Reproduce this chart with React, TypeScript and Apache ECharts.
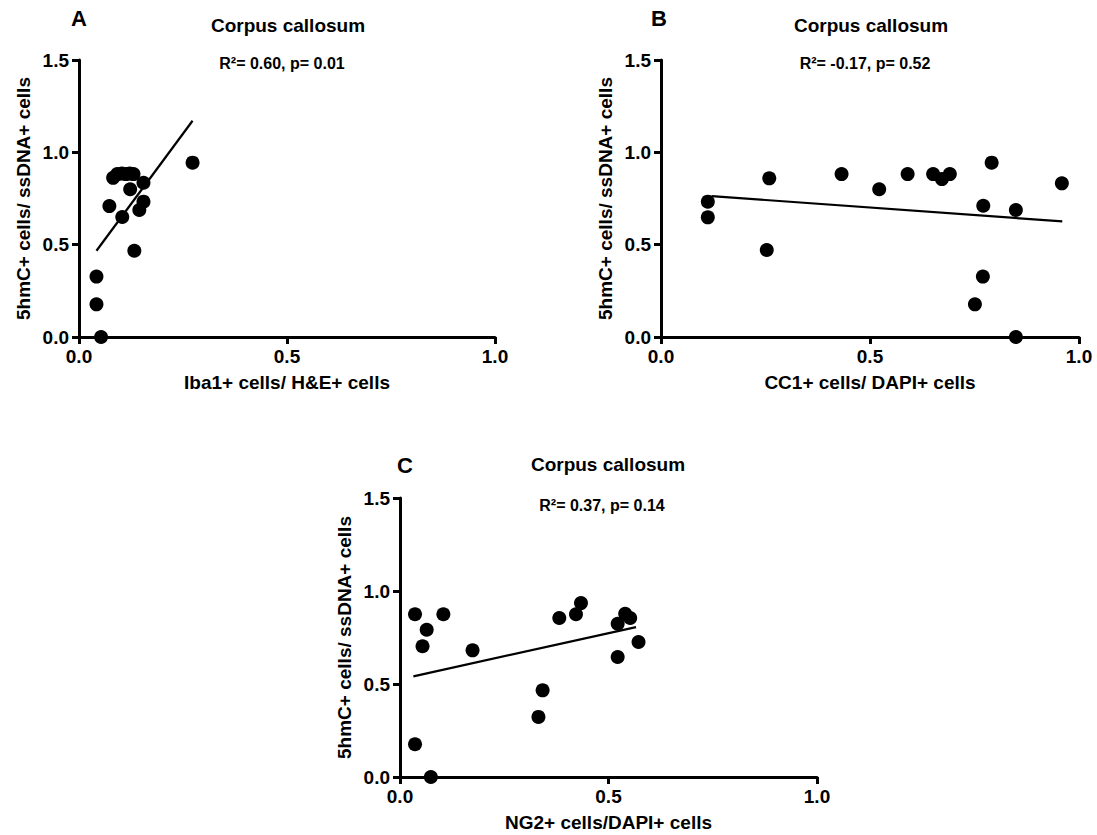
import React, { useEffect, useRef } from "react";
import * as echarts from "echarts";

// Panel A: Iba1+ / H&E+ vs 5hmC+ / ssDNA+
const aX = [0.042, 0.042, 0.053, 0.073, 0.082, 0.092, 0.103, 0.113, 0.122, 0.131, 0.123, 0.104, 0.133, 0.145, 0.155, 0.155, 0.273];
const aY = [0.327, 0.177, 0.0, 0.709, 0.862, 0.882, 0.885, 0.882, 0.885, 0.882, 0.80, 0.65, 0.467, 0.688, 0.733, 0.835, 0.944];
const aFitX = [0.042, 0.273];
const aFitY = [0.467, 1.171];

// Panel B: CC1+ / DAPI+ vs 5hmC+ / ssDNA+
const bX = [0.112, 0.112, 0.259, 0.253, 0.432, 0.522, 0.590, 0.651, 0.672, 0.691, 0.791, 0.771, 0.770, 0.751, 0.849, 0.849, 0.959];
const bY = [0.733, 0.648, 0.859, 0.471, 0.882, 0.80, 0.882, 0.882, 0.855, 0.882, 0.944, 0.711, 0.327, 0.177, 0.688, 0.0, 0.832];
const bFitX = [0.121, 0.96];
const bFitY = [0.763, 0.626];

// Panel C: NG2+ / DAPI+ vs 5hmC+ / ssDNA+
const cX = [0.036, 0.036, 0.054, 0.064, 0.074, 0.104, 0.174, 0.332, 0.342, 0.382, 0.422, 0.434, 0.522, 0.540, 0.552, 0.522, 0.572];
const cY = [0.875, 0.176, 0.703, 0.792, 0.0, 0.875, 0.681, 0.323, 0.466, 0.855, 0.875, 0.935, 0.824, 0.878, 0.855, 0.645, 0.726];
const cFitX = [0.032, 0.566];
const cFitY = [0.541, 0.806];

const xTicks = ["0.0", "0.5", "1.0"];
const yTicks = ["0.0", "0.5", "1.0", "1.5"];

const panelLetters = ["A", "B", "C"];
const panelTitle = "Corpus callosum";
const statTexts = ["R\u00b2= 0.60, p= 0.01", "R\u00b2= -0.17, p= 0.52", "R\u00b2= 0.37, p= 0.14"];
const xNames = ["Iba1+ cells/ H&E+ cells", "CC1+ cells/ DAPI+ cells", "NG2+ cells/DAPI+ cells"];
const yName = "5hmC+ cells/ ssDNA+ cells";

const FONT = "'Liberation Sans', Arial, sans-serif";
const INK = "#000";

export default function App() {
  const ref = useRef<HTMLDivElement>(null);

  useEffect(() => {
    if (!ref.current) return;
    const chart = echarts.init(ref.current, undefined, { renderer: "svg" });

    const grids = [
      { left: 79, top: 60, width: 416, height: 277 },
      { left: 661, top: 60, width: 418, height: 277 },
      { left: 400, top: 498, width: 417, height: 279 },
    ];

    const axisLine = { show: true, onZero: false, lineStyle: { color: INK, width: 3 } };
    const axisTick = { show: true, length: 7, lineStyle: { color: INK, width: 3 } };
    const labelStyle = { color: INK, fontFamily: FONT, fontWeight: "bold" as const, fontSize: 19 };

    const xAxes = grids.map((_, i) => ({
      type: "value" as const,
      gridIndex: i,
      min: 0,
      max: 1,
      interval: 0.5,
      name: xNames[i],
      nameLocation: "middle" as const,
      nameGap: 36,
      nameTextStyle: { ...labelStyle, fontSize: 19 },
      axisLine,
      axisTick,
      splitLine: { show: false },
      axisLabel: { ...labelStyle, margin: 10, formatter: (v: number) => xTicks[Math.round(v / 0.5)] },
    }));

    const yAxes = grids.map((_, i) => ({
      type: "value" as const,
      gridIndex: i,
      min: 0,
      max: 1.5,
      interval: 0.5,
      name: yName,
      nameLocation: "middle" as const,
      nameGap: 46,
      nameTextStyle: { ...labelStyle, fontSize: 19 },
      axisLine,
      axisTick,
      splitLine: { show: false },
      axisLabel: { ...labelStyle, margin: 10, formatter: (v: number) => yTicks[Math.round(v / 0.5)] },
    }));

    const sets = [
      { x: aX, y: aY, fx: aFitX, fy: aFitY },
      { x: bX, y: bY, fx: bFitX, fy: bFitY },
      { x: cX, y: cY, fx: cFitX, fy: cFitY },
    ];

    const series: any[] = [];
    sets.forEach((s, i) => {
      series.push({
        type: "line",
        xAxisIndex: i,
        yAxisIndex: i,
        data: s.fx.map((v, k) => [v, s.fy[k]]),
        symbol: "none",
        lineStyle: { color: INK, width: 2.2 },
        z: 2,
      });
      series.push({
        type: "scatter",
        xAxisIndex: i,
        yAxisIndex: i,
        data: s.x.map((v, k) => [v, s.y[k]]),
        symbol: "circle",
        symbolSize: 14,
        itemStyle: { color: INK, opacity: 1 },
        z: 3,
      });
    });

    const titlePos = [
      { cx: 288, ty: 25, sy: 63, lx: 79, ly: 18 },
      { cx: 871, ty: 25, sy: 63, lx: 659, ly: 18 },
      { cx: 608, ty: 464, sy: 505, lx: 405, ly: 465 },
    ];

    const graphic: any[] = [];
    titlePos.forEach((p, i) => {
      graphic.push({
        type: "text",
        x: p.cx,
        y: p.ty,
        style: { text: panelTitle, font: `bold 19px ${FONT}`, fill: INK, align: "center", verticalAlign: "middle" },
      });
      graphic.push({
        type: "text",
        x: p.cx - 6,
        y: p.sy,
        style: { text: statTexts[i], font: `bold 16px ${FONT}`, fill: INK, align: "center", verticalAlign: "middle" },
      });
      graphic.push({
        type: "text",
        x: p.lx,
        y: p.ly,
        style: { text: panelLetters[i], font: `bold 22px ${FONT}`, fill: INK, align: "center", verticalAlign: "middle" },
      });
    });

    chart.setOption({
      animation: false,
      backgroundColor: "#ffffff",
      grid: grids,
      xAxis: xAxes,
      yAxis: yAxes,
      series,
      graphic,
    });

    return () => chart.dispose();
  }, []);

  return (
    <div
      ref={ref}
      style={{ position: "absolute", left: 0, top: 0, width: 1097, height: 835 }}
    />
  );
}
